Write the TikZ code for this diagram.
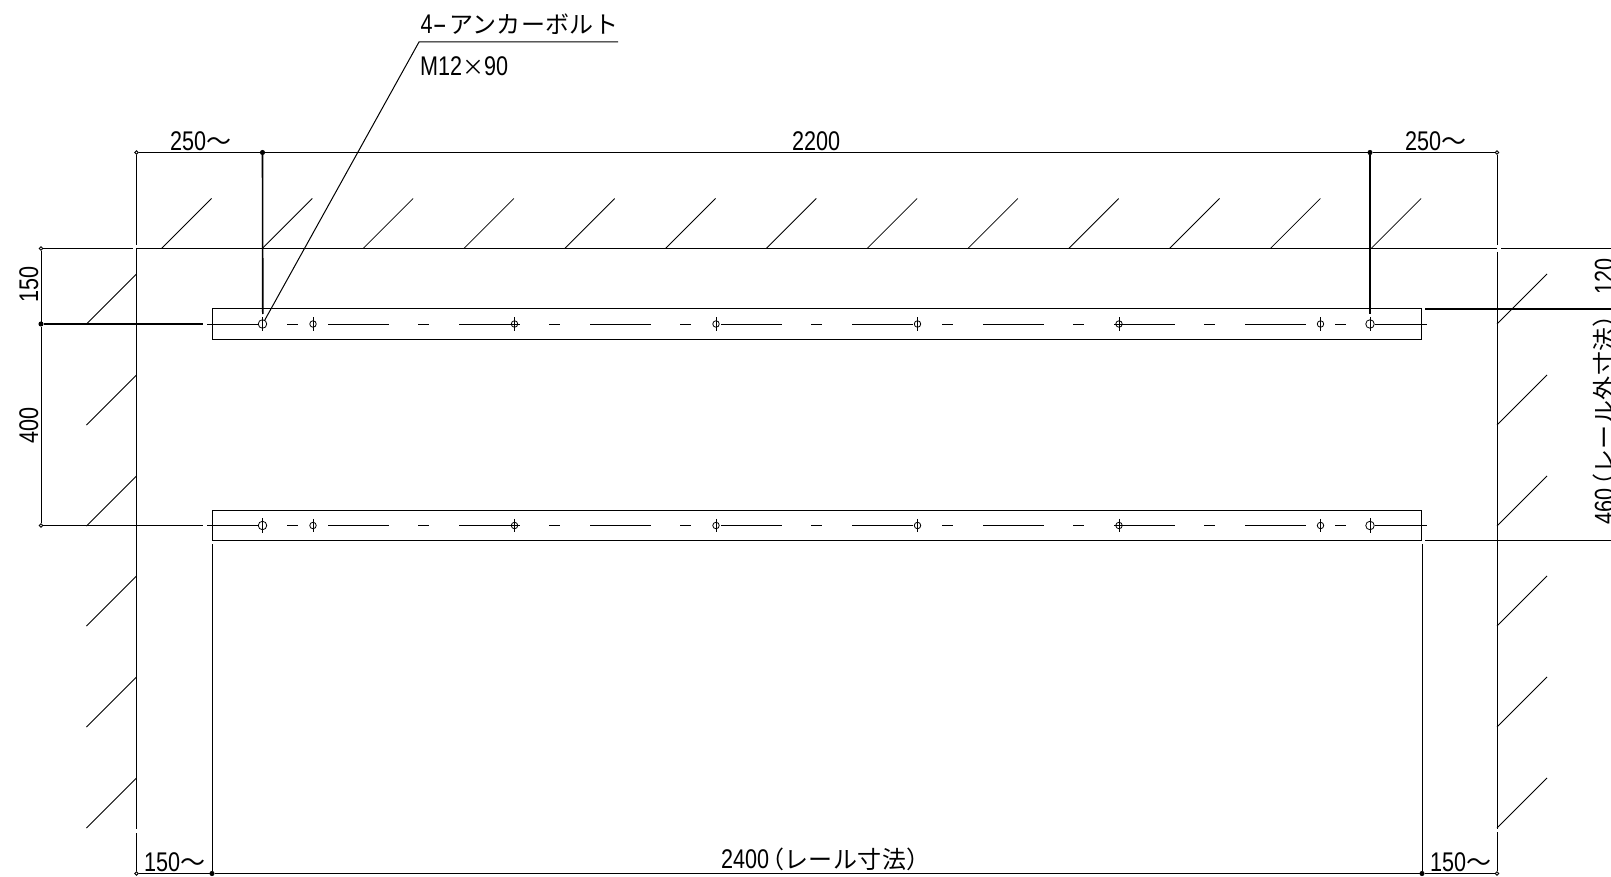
\documentclass[tikz,border=0pt]{standalone}
\usepackage{fontspec}
\usepackage{tikz}
\usetikzlibrary{positioning}
\setmainfont[FakeStretch=0.8]{Liberation Sans}
\newfontfamily\jpfont[LetterSpace=1.5]{Noto Sans CJK JP}
\newcommand{\wave}{{\jpfont\fontsize{25pt}{25pt}\selectfont ～}}
\tikzstyle{rail} = [rectangle, draw=black, line width=0.9pt, minimum width=1209.5pt, minimum height=30.5pt, inner sep=0pt]
\tikzstyle{hole} = [circle, draw=black, line width=0.8pt, minimum size=6.5pt, inner sep=0pt]
\tikzstyle{bighole} = [circle, draw=black, line width=0.8pt, minimum size=8.5pt, inner sep=0pt]
\tikzstyle{opendot} = [circle, draw=black, fill=white, line width=0.8pt, minimum size=3.5pt, inner sep=0pt]
\tikzstyle{fulldot} = [circle, draw=black, fill=black, minimum size=4.2pt, line width=0.8pt, inner sep=0pt]
\tikzstyle{dimtext} = [inner sep=0pt, font=\fontsize{27pt}{27pt}\selectfont]
\tikzstyle{wall} = [line width=1pt, draw=black]
\tikzstyle{thin} = [line width=0.8pt, draw=black]

\begin{document}
\begin{tikzpicture}[x=1pt,y=-1pt]
        \useasboundingbox (0,0) rectangle (1611,877);

        % rails
        \node (railA) [rail] at (816.8,324) {};
        \node (railB) [rail] at (816.8,525.5) {};

        % dimension points
        \node (dimTopL) [opendot] at (136.5,152.5) {};
        \node (dimTopA) [fulldot] at (262.5,152.5) {};
        \node (dimTopB) [fulldot] at (1370,152.5) {};
        \node (dimTopR) [opendot] at (1497,152.5) {};
        \node (dimBotL) [opendot] at (136.5,873.5) {};
        \node (dimBotA) [fulldot] at (212,873.5) {};
        \node (dimBotB) [fulldot] at (1422,873.5) {};
        \node (dimBotR) [opendot] at (1497,873.5) {};
        \node (dimLeftT) [opendot] at (41,248.5) {};
        \node (dimLeftA) [fulldot] at (41,324) {};
        \node (dimLeftB) [opendot] at (41,525.5) {};

        % anchor bolts
        \foreach \y/\r in {324/A,525.5/B} {
            \node (hole\r1) [bighole] at (262.5,\y) {};
            \node (hole\r8) [bighole] at (1370,\y) {};
            \draw [thin] ([yshift=2.5pt]hole\r1.north) -- ([yshift=-2.5pt]hole\r1.south);
            \draw [thin] ([yshift=2.5pt]hole\r8.north) -- ([yshift=-2.5pt]hole\r8.south);
            \foreach \i/\x in {2/313,3/514.5,4/716,5/917.5,6/1119,7/1320.5} {
                \node (hole\r\i) [hole] at (\x,\y) {};
                \draw [thin] ([yshift=3pt]hole\r\i.north) -- ([yshift=-3pt]hole\r\i.south);
            }
            % centre line
            \draw [thin] (207,\y) -- (hole\r1.west);
            \foreach \x in {328,459,590,721,852,983,1114,1245}
                \draw [thin] (\x,\y) -- ++(61,0);
            \foreach \x in {287,418,549,680,811,942,1073,1204,1335}
                \draw [thin] (\x,\y) -- ++(11,0);
            \draw [thin] (hole\r8.east) -- (1427,\y);
        }

        % walls
        \draw [wall] (dimTopL) -- (136.5,245);
        \draw [wall] (136.5,248.5) -- (136.5,829);
        \draw [wall] (136.5,833) -- (dimBotL);
        \draw [wall] (dimTopR) -- (1497,245);
        \draw [wall] (1497,252) -- (1497,828.5);
        \draw [wall] (1497,832) -- (dimBotR);
        \draw [wall] (dimLeftT) -- (133,248.5);
        \draw [wall] (137,248.5) -- (1497,248.5);
        \draw [wall] (1501,248.5) -- (1611,248.5);

        % hatching
        \foreach \x in {0,...,12}
            \draw [thin] (161.5+100.8*\x,248.5) -- ++(50,-50);
        \foreach \y in {274,375,476,576,677,778} {
            \draw [thin] (136.5,\y) -- ++(-50,50);
            \draw [thin] (1497,\y+50) -- ++(50,-50);
        }

        % dimension lines
        \draw [thin] (dimTopL) -- (dimTopA);
        \draw [thin] (dimTopA) -- (dimTopB);
        \draw [thin] (dimTopB) -- (dimTopR);
        \draw [thin] (dimBotL) -- (dimBotA);
        \draw [thin] (dimBotA) -- (dimBotB);
        \draw [thin] (dimBotB) -- (dimBotR);
        \draw [thin] (dimLeftT) -- (dimLeftA);
        \draw [thin] (dimLeftA) -- (dimLeftB);
        \draw [line width=1.3pt] (dimLeftA) -- (203,324);
        \draw [thin] (dimLeftB) -- (203,525.5);
        \draw [line width=1.6pt] (dimTopA) -- (262.8,314);
        \draw [line width=1.5pt] (dimTopB) -- (1370,314);
        \draw [wall] (212,544) -- (dimBotA);
        \draw [wall] (1422,544) -- (dimBotB);
        \draw [line width=1.3pt] (1425,309) -- (1611,309);
        \draw [thin] (1425,540.7) -- (1611,540.7);

        % leader
        \coordinate (leaderKnee) at (419,42);
        \coordinate (leaderEnd) at (618,42);
        \draw [line width=1pt] (holeA1.60) -- (leaderKnee) -- (leaderEnd);

        % labels
        \node (boltName) [dimtext, anchor=base west] at (420.5,34) {4\scalebox{2}[1]{-}\hspace{2pt}{\jpfont\fontsize{24pt}{24pt}\selectfont アンカーボルト}};
        \node (boltSize) [dimtext, anchor=base west] at (420,76) {M12{\jpfont\fontsize{22pt}{22pt}\selectfont ×}90};
        \node (topLeft) [dimtext, anchor=base west] at (170,151) {250\wave};
        \node (topMid) [dimtext, anchor=base west] at (792,151) {2200};
        \node (topRight) [dimtext, anchor=base west] at (1405,151) {250\wave};
        \node (botLeft) [dimtext, anchor=base west] at (144,871.5) {150\wave};
        \node (botMid) [dimtext, anchor=base west] at (721,868.5) {2400\hspace*{-9pt}{\jpfont\fontsize{24pt}{24pt}\selectfont （レール寸法）}};
        \node (botRight) [dimtext, anchor=base west] at (1430,871.5) {150\wave};
        \node (leftA) [dimtext, rotate=90, anchor=base west] at (38,303) {150};
        \node (leftB) [dimtext, rotate=90, anchor=base west] at (38,444) {400};
        \node (rightA) [dimtext, rotate=90, anchor=base west] at (1613.5,295) {120};
        \node (rightB) [dimtext, rotate=90, anchor=base west] at (1613.5,525) {460\hspace*{-9pt}{\jpfont\fontsize{24pt}{24pt}\selectfont （レール外寸法）}};

    \end{tikzpicture}
\end{document}
